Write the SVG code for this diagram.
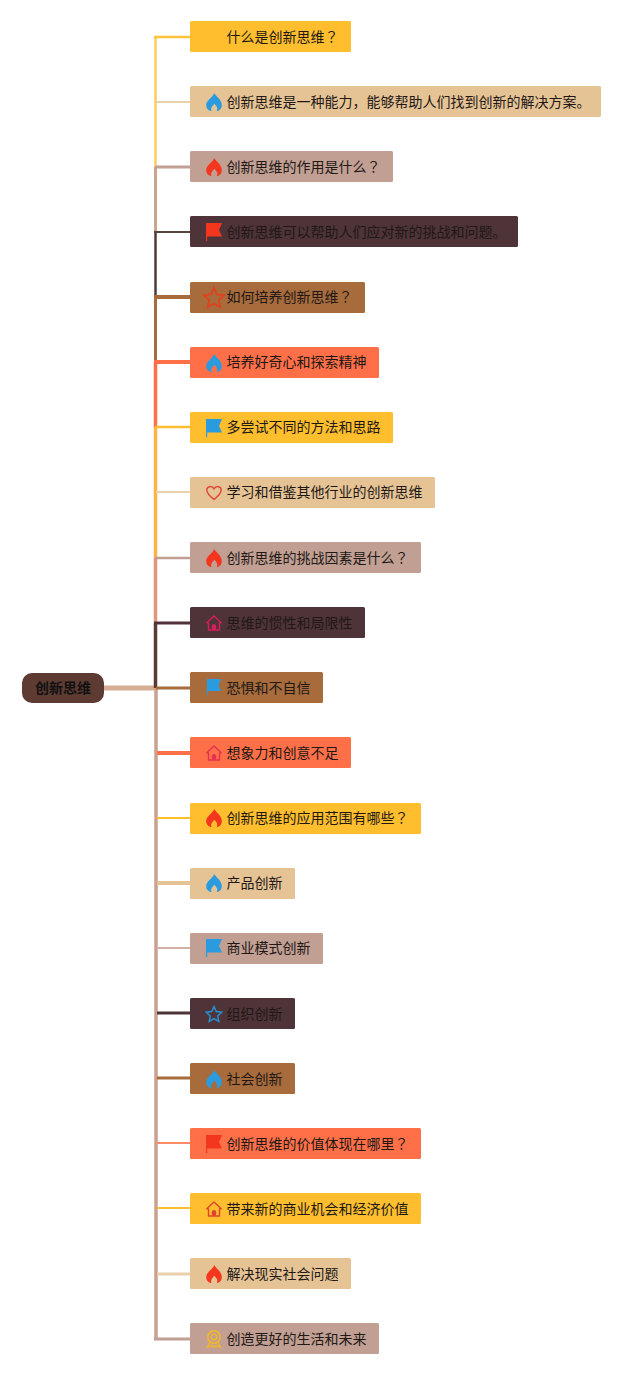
<svg xmlns="http://www.w3.org/2000/svg" width="640" height="1376" viewBox="0 0 640 1376">
<style>
text{font-family:"Noto Sans CJK SC","Noto Sans",sans-serif;font-size:14px;fill:#211816}
.q{font-family:"Noto Sans CJK TC","Noto Sans",sans-serif}
.a{fill:#FFBE2E}.t{fill:#E6C394}.r{fill:#C19F92}.d{fill:#4E3338}.b{fill:#A76B3C}.c{fill:#FF7049}
.l{fill:none;stroke-linecap:butt}
.blue{fill:#2A9BDE}.red{fill:#F4361E}
</style>
<defs>
<symbol id="fire" viewBox="0 0 16 18"><path d="M8.200 0C9.500 3 15.800 6.500 15.800 12C15.800 15.500 13.500 18 10.800 18C12 16 11.300 13.500 8.300 10.800C5.800 13.500 4.300 16 5.500 18C2.700 18 .2 15.500 .2 12C.2 7 7 4.500 8.200 0Z"/></symbol>
<symbol id="flag" viewBox="0 0 16 18"><path d="M0 0H16L13 7L16 13.500H1.200V18H0Z"/></symbol>
<symbol id="star" viewBox="0 0 18 18"><path d="M9 1.500L11.300 6.600L16.800 7.200L12.700 11L13.800 16.500L9 13.700L4.200 16.500L5.300 11L1.200 7.200L6.700 6.600Z" fill="none" stroke="currentColor" stroke-width="1.500"/></symbol>
<symbol id="heart" viewBox="0 0 16 16"><path d="M8 14.500C3 10.500 .8 8 .8 5C.8 1.300 6 .3 8 3.800C10 .3 15.200 1.300 15.200 5C15.200 8 13 10.500 8 14.500Z" fill="none" stroke="currentColor" stroke-width="1.500"/></symbol>
<symbol id="home" viewBox="0 0 16 16"><path d="M.8 7.800L8 1L15.200 7.800L13.500 8V15H2.500V8Z" fill="none" stroke="currentColor" stroke-width="1.400" stroke-linejoin="round"/><rect x="5.800" y="9" width="4.400" height="6" rx="2.200" fill="currentColor"/></symbol>
<symbol id="medal" viewBox="0 0 16 18"><circle cx="8" cy="7" r="6.200" fill="none" stroke="currentColor" stroke-width="1.600"/><circle cx="8" cy="7" r="2.800" fill="none" stroke="currentColor" stroke-width="1.400"/><path d="M4 12.500L1.500 17L6 15.800L8 17.200L10 15.800L14.500 17L12 12.500" fill="none" stroke="currentColor" stroke-width="1.500"/></symbol>
</defs>
<rect width="640" height="1376" fill="#fff"/>
<g id="connectors" class="l">
<path d="M104 688H156" stroke="#D6AE93" stroke-width="5"/>
<path d="M156 688V1339" stroke="#C9A18E" stroke-width="3.500"/>
<path d="M155.500 36V167" stroke="#FFCB5A" stroke-width="2.500"/>
<path d="M155.500 167V232" stroke="#C9A58F" stroke-width="3"/>
<path d="M155.500 232V297" stroke="#4E3B38" stroke-width="2.500"/>
<path d="M155.500 297V362" stroke="#A76B3C" stroke-width="3"/>
<path d="M155.500 362V427" stroke="#FF7049" stroke-width="3.500"/>
<path d="M155.500 427V558" stroke="#FFB347" stroke-width="3.500"/>
<path d="M155.500 558V623" stroke="#E0967A" stroke-width="3.500"/>
<path d="M155.500 623V688" stroke="#5A3A35" stroke-width="3.500"/>
<path d="M154 37H190" stroke="#FFC23A" stroke-width="2.500"/>
<path d="M156 102H190" stroke="#EBD0AC" stroke-width="2"/>
<path d="M155 167H190" stroke="#C19F92" stroke-width="3"/>
<path d="M154 232H190" stroke="#56443F" stroke-width="2"/>
<path d="M154 297H190" stroke="#A76B3C" stroke-width="4"/>
<path d="M154 362H190" stroke="#FF7049" stroke-width="4"/>
<path d="M155 427H190" stroke="#FFBE2E" stroke-width="2.500"/>
<path d="M156 492H190" stroke="#EBD0AC" stroke-width="2"/>
<path d="M155 558H190" stroke="#C19F92" stroke-width="2.500"/>
<path d="M154 623H190" stroke="#4E3338" stroke-width="3"/>
<path d="M156 688H190" stroke="#A76B3C" stroke-width="3"/>
<path d="M157 753H190" stroke="#FF7049" stroke-width="4"/>
<path d="M157 818H190" stroke="#FFBE2E" stroke-width="2"/>
<path d="M157 883H190" stroke="#E6C394" stroke-width="4"/>
<path d="M157 948H190" stroke="#D2B0A3" stroke-width="2"/>
<path d="M157 1013H190" stroke="#4E3338" stroke-width="3"/>
<path d="M157 1078H190" stroke="#A76B3C" stroke-width="3"/>
<path d="M157 1143H190" stroke="#FF8A68" stroke-width="2"/>
<path d="M157 1208H190" stroke="#FFBE2E" stroke-width="2"/>
<path d="M157 1274H190" stroke="#EBD0AC" stroke-width="3"/>
<path d="M154 1339H190" stroke="#C19F92" stroke-width="3"/>
</g>
<g id="root"><rect x="22" y="673" width="82" height="30" rx="10" fill="#5D3B32"/><text x="63" y="693" text-anchor="middle" font-weight="700" style="fill:#111">创新思维</text></g>
<g id="n0"><rect class="a" x="190" y="21" width="161" height="31" rx="1.500"/><text x="226.500" y="42">什么是创新思维<tspan class="q">？</tspan></text></g>
<g id="n1"><rect class="t" x="190" y="86" width="411" height="31" rx="1.500"/><use href="#fire" class="blue" x="206" y="93" width="16" height="18"/><text x="226.500" y="107">创新思维是一种能力，能够帮助人们找到创新的解决方案。</text></g>
<g id="n2"><rect class="r" x="190" y="151" width="203" height="31" rx="1.500"/><use href="#fire" class="red" x="206" y="158" width="16" height="18"/><text x="226.500" y="172">创新思维的作用是什么<tspan class="q">？</tspan></text></g>
<g id="n3"><rect class="d" x="190" y="216" width="328" height="31" rx="1.500"/><use href="#flag" class="red" x="206" y="223" width="16" height="18"/><text x="226.500" y="237">创新思维可以帮助人们应对新的挑战和问题。</text></g>
<g id="n4"><rect class="b" x="190" y="282" width="175" height="31" rx="1.500"/><use href="#star" color="#E0431F" x="202.500" y="286" width="23" height="23"/><text x="226.500" y="302">如何培养创新思维<tspan class="q">？</tspan></text></g>
<g id="n5"><rect class="c" x="190" y="347" width="189" height="31" rx="1.500"/><use href="#fire" class="blue" x="206" y="354" width="16" height="18"/><text x="226.500" y="367">培养好奇心和探索精神</text></g>
<g id="n6"><rect class="a" x="190" y="412" width="203" height="31" rx="1.500"/><use href="#flag" class="blue" x="206" y="419" width="16" height="18"/><text x="226.500" y="432">多尝试不同的方法和思路</text></g>
<g id="n7"><rect class="t" x="190" y="477" width="245" height="31" rx="1.500"/><use href="#heart" color="#E04B3A" x="206" y="485" width="16" height="16"/><text x="226.500" y="497">学习和借鉴其他行业的创新思维</text></g>
<g id="n8"><rect class="r" x="190" y="542" width="231" height="31" rx="1.500"/><use href="#fire" class="red" x="206" y="549" width="16" height="18"/><text x="226.500" y="563">创新思维的挑战因素是什么<tspan class="q">？</tspan></text></g>
<g id="n9"><rect class="d" x="190" y="607" width="175" height="31" rx="1.500"/><use href="#home" color="#D81E5B" x="206" y="615" width="16" height="16"/><text x="226.500" y="628">思维的惯性和局限性</text></g>
<g id="n10"><rect class="b" x="190" y="672" width="133" height="31" rx="1.500"/><use href="#flag" class="blue" x="206" y="679" width="16" height="16"/><text x="226.500" y="693">恐惧和不自信</text></g>
<g id="n11"><rect class="c" x="190" y="737" width="161" height="31" rx="1.500"/><use href="#home" color="#E6304F" x="206" y="745" width="16" height="16"/><text x="226.500" y="758">想象力和创意不足</text></g>
<g id="n12"><rect class="a" x="190" y="803" width="231" height="31" rx="1.500"/><use href="#fire" class="red" x="206" y="809" width="16" height="18"/><text x="226.500" y="823">创新思维的应用范围有哪些<tspan class="q">？</tspan></text></g>
<g id="n13"><rect class="t" x="190" y="868" width="105" height="31" rx="1.500"/><use href="#fire" class="blue" x="206" y="874" width="16" height="18"/><text x="226.500" y="888">产品创新</text></g>
<g id="n14"><rect class="r" x="190" y="933" width="133" height="31" rx="1.500"/><use href="#flag" class="blue" x="206" y="939" width="16" height="18"/><text x="226.500" y="953">商业模式创新</text></g>
<g id="n15"><rect class="d" x="190" y="998" width="105" height="31" rx="1.500"/><use href="#star" color="#2A8FD0" x="205" y="1005" width="18" height="18"/><text x="226.500" y="1019">组织创新</text></g>
<g id="n16"><rect class="b" x="190" y="1063" width="105" height="31" rx="1.500"/><use href="#fire" class="blue" x="206" y="1070" width="16" height="18"/><text x="226.500" y="1084">社会创新</text></g>
<g id="n17"><rect class="c" x="190" y="1128" width="231" height="31" rx="1.500"/><use href="#flag" class="red" x="206" y="1135" width="16" height="18"/><text x="226.500" y="1149">创新思维的价值体现在哪里<tspan class="q">？</tspan></text></g>
<g id="n18"><rect class="a" x="190" y="1193" width="231" height="31" rx="1.500"/><use href="#home" color="#E0432E" x="206" y="1201" width="16" height="16"/><text x="226.500" y="1214">带来新的商业机会和经济价值</text></g>
<g id="n19"><rect class="t" x="190" y="1258" width="161" height="31" rx="1.500"/><use href="#fire" class="red" x="206" y="1265" width="16" height="18"/><text x="226.500" y="1279">解决现实社会问题</text></g>
<g id="n20"><rect class="r" x="190" y="1323" width="189" height="31" rx="1.500"/><use href="#medal" color="#F2B62B" x="206" y="1330" width="16" height="18"/><text x="226.500" y="1344">创造更好的生活和未来</text></g>
</svg>
